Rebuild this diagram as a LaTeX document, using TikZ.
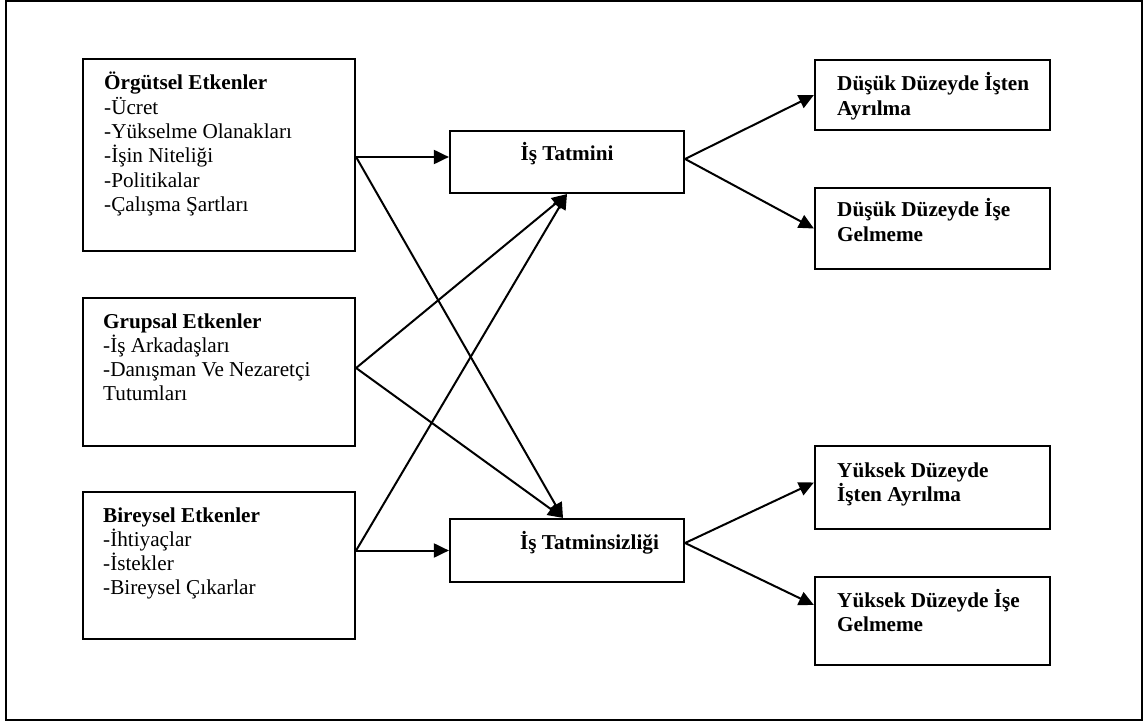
\documentclass[tikz,border=0pt]{standalone}
\usepackage{fontspec}
\setmainfont{Liberation Serif}
\usetikzlibrary{arrows.meta}
\begin{document}
\begin{tikzpicture}[x=1pt,y=-1pt,
  frame/.style={draw=black,line width=2pt},
  box/.style={draw=black,line width=2.2pt,rectangle,inner sep=0pt,minimum width=#1},
  box/.default=272pt,
  txt/.style={inner sep=0pt,anchor=base west,font=\fontsize{21.2}{24.3}\selectfont},
  ctxt/.style={inner sep=0pt,anchor=base,font=\fontsize{21.2}{24.3}\selectfont\bfseries},
  arr/.style={draw=black,line width=2pt,-{Triangle[length=15pt,width=14pt]}}
]
\useasboundingbox (0,0) rectangle (1146,722);
\draw[frame] (5.5,1.5) rectangle (1142,720);

% factor boxes (left column)
\node[box,minimum height=192pt] (org) at (219,155) {};
\node[box,minimum height=148pt] (grp) at (219,372) {};
\node[box,minimum height=147pt] (bir) at (219,565.5) {};

% outcome boxes (middle column)
\node[box=234pt,minimum height=62pt] (tat) at (567,162) {};
\node[box=234pt,minimum height=63pt] (tsz) at (567,550.5) {};

% consequence boxes (right column)
\node[box=235pt,minimum height=70pt] (d1) at (932.5,95) {};
\node[box=235pt,minimum height=81pt] (d2) at (932.5,228.5) {};
\node[box=235pt,minimum height=83pt] (y1) at (932.5,487.5) {};
\node[box=235pt,minimum height=88pt] (y2) at (932.5,621) {};

% texts
\node[txt] (orgt) at (104,90) {\parbox[t]{240pt}{\raggedright\textbf{Örgütsel Etkenler}\\-Ücret\\-Yükselme Olanakları\\-İşin Niteliği\\-Politikalar\\-Çalışma Şartları}};
\node[txt] (grpt) at (103,328) {\parbox[t]{240pt}{\raggedright\textbf{Grupsal Etkenler}\\-İş Arkadaşları\\-Danışman Ve Nezaretçi\\Tutumları}};
\node[txt] (birt) at (103,522) {\parbox[t]{240pt}{\raggedright\textbf{Bireysel Etkenler}\\-İhtiyaçlar\\-İstekler\\-Bireysel Çıkarlar}};
\node[ctxt] (tatt) at (567,161) {İş Tatmini};
\node[ctxt] (tszt) at (589.5,549) {İş Tatminsizliği};
\node[txt] (d1t) at (837,91) {\parbox[t]{210pt}{\raggedright\bfseries Düşük Düzeyde İşten\\Ayrılma}};
\node[txt] (d2t) at (837,217) {\parbox[t]{210pt}{\raggedright\bfseries Düşük Düzeyde İşe\\Gelmeme}};
\node[txt] (y1t) at (837,477) {\parbox[t]{210pt}{\raggedright\bfseries Yüksek Düzeyde\\İşten Ayrılma}};
\node[txt] (y2t) at (837,607) {\parbox[t]{210pt}{\raggedright\bfseries Yüksek Düzeyde İşe\\Gelmeme}};

% connector end points on the box sides
\coordinate (oo) at ([yshift=-2pt]org.east);
\coordinate (gg) at ([yshift=4pt]grp.east);
\coordinate (bb) at (tsz.west -| bir.east);
\coordinate (tt) at ([yshift=3pt]tat.east);
\coordinate (ss) at ([yshift=7.5pt]tsz.east);
\coordinate (tszin) at ([xshift=-4pt]tsz.north);

% factors to satisfaction / dissatisfaction
\draw[arr] (oo) -- (oo -| tat.west);
\draw[arr] (oo) -- (tszin);
\draw[arr] (gg) -- (tat.south);
\draw[arr] (gg) -- (tszin);
\draw[arr] (bb) -- (tat.south);
\draw[arr] (bb) -- (tsz.west);

% satisfaction / dissatisfaction to consequences
\draw[arr] (tt) -- (d1.west);
\draw[arr] (tt) -- (d2.west);
\draw[arr] (ss) -- ([yshift=5pt]y1.west);
\draw[arr] (ss) -- ([yshift=16pt]y2.west);
\end{tikzpicture}
\end{document}
